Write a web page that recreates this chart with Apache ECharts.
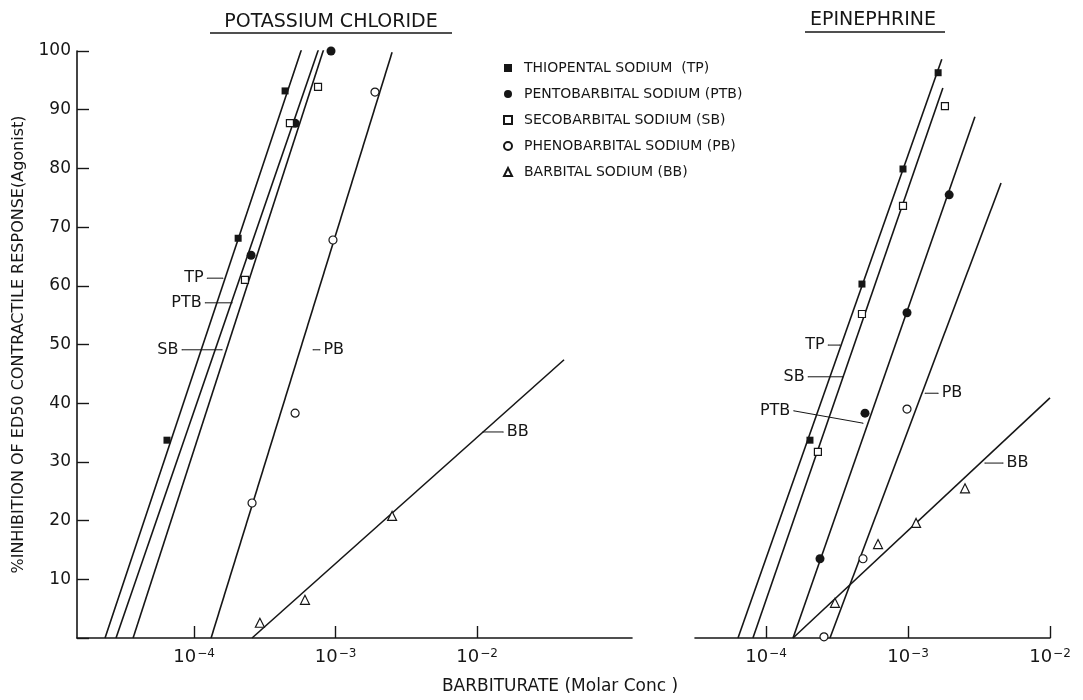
<!DOCTYPE html>
<html>
<head>
<meta charset="utf-8">
<script src="https://cdn.jsdelivr.net/npm/echarts@6/dist/echarts.min.js"></script>
<style>
  html, body { margin: 0; padding: 0; background: #fff; }
  #chart { width: 1083px; height: 700px; }
</style>
</head>
<body>
<div id="chart"></div>
<script>
// compounds, same order everywhere below
const compounds = [
  'THIOPENTAL SODIUM  (TP)',
  'PENTOBARBITAL SODIUM (PTB)',
  'SECOBARBITAL SODIUM (SB)',
  'PHENOBARBITAL SODIUM (PB)',
  'BARBITAL SODIUM (BB)'
]

// x ticks: powers of ten (molar)
const xTickExp = [-4, -3, -2]

// potassium chloride: [molar conc, % inhibition]
const kclTP = [[6.44e-5, 33.7], [2.05e-4, 68.1], [4.40e-4, 93.2]]
const kclPTB = [[2.53e-4, 65.2], [5.18e-4, 87.7], [9.29e-4, 100.0]]
const kclSB = [[2.29e-4, 61.0], [4.76e-4, 87.7], [7.52e-4, 93.9]]
const kclPB = [[2.57e-4, 23.0], [5.18e-4, 38.3], [9.59e-4, 67.8], [1.90e-3, 93.0]]
const kclBB = [[2.92e-4, 2.6], [6.08e-4, 6.5], [2.51e-3, 20.8]]

// epinephrine
const epiTP = [[2.04e-4, 33.7], [4.74e-4, 60.3], [9.22e-4, 79.9], [1.63e-3, 96.3]]
const epiPTB = [[2.40e-4, 13.5], [4.98e-4, 38.3], [9.84e-4, 55.4], [1.95e-3, 75.5]]
const epiSB = [[2.32e-4, 31.7], [4.74e-4, 55.2], [9.22e-4, 73.6], [1.82e-3, 90.6]]
const epiPB = [[2.56e-4, 0.2], [4.82e-4, 13.5], [9.84e-4, 39.0]]
const epiBB = [[3.06e-4, 6.0], [6.15e-4, 16.0], [1.14e-3, 19.6], [2.52e-3, 25.5]]

// fitted lines, two ends each (TP, PTB, SB, PB, BB)
const kclFits = [
  [[2.35e-5, 0], [5.79e-4, 100.5]],
  [[2.81e-5, 0], [7.76e-4, 101.0]],
  [[3.71e-5, 0], [8.43e-4, 101.0]],
  [[1.32e-4, 0], [2.51e-3, 99.8]],
  [[2.57e-4, 0], [4.12e-2, 47.4]]
]
const epiFits = [
  [[6.35e-5, 0], [1.73e-3, 98.6]],
  [[1.55e-4, 0], [2.96e-3, 88.8]],
  [[8.09e-5, 0], [1.76e-3, 93.7]],
  [[2.82e-4, 0], [4.52e-3, 77.5]],
  [[1.55e-4, 0], [1.00e-2, 40.9]]
]

// leader labels: text, end next to text, end on the line, side of text
const kclLeaders = [
  ['TP', [1.24e-4, 61.3], [1.60e-4, 61.3], 'left'],
  ['PTB', [1.20e-4, 57.1], [1.86e-4, 57.1], 'left'],
  ['SB', [8.22e-5, 49.1], [1.58e-4, 49.1], 'left'],
  ['PB', [7.76e-4, 49.1], [6.93e-4, 49.1], 'right'],
  ['BB', [1.53e-2, 35.1], [1.10e-2, 35.1], 'right']
]
const epiLeaders = [
  ['TP', [2.74e-4, 49.9], [3.32e-4, 49.9], 'left'],
  ['SB', [1.98e-4, 44.5], [3.48e-4, 44.5], 'left'],
  ['PTB', [1.57e-4, 38.7], [4.82e-4, 36.6], 'left'],
  ['PB', [1.63e-3, 41.7], [1.32e-3, 41.7], 'right'],
  ['BB', [4.67e-3, 29.8], [3.48e-3, 29.8], 'right']
]

const INK = '#161616'
const FONT = 'DejaVu Sans'

const markers = [
  { symbol: 'rect', size: 7, fill: INK, border: 0 },
  { symbol: 'circle', size: 9, fill: INK, border: 0 },
  { symbol: 'rect', size: 7, fill: '#fff', border: 1.2 },
  { symbol: 'circle', size: 8, fill: '#fff', border: 1.2 },
  { symbol: 'triangle', size: 9, fill: '#fff', border: 1.2 }
]

const lx = c => Math.log10(c)

const series = []

function addPanel(gi, points, fits, leaders) {
  fits.forEach((f, i) => {
    series.push({
      type: 'line',
      name: 'fit' + gi + '-' + i,
      xAxisIndex: gi,
      yAxisIndex: gi,
      data: f.map(p => [lx(p[0]), p[1]]),
      showSymbol: false,
      symbol: 'none',
      lineStyle: { color: INK, width: 1.6 },
      silent: true,
      z: 2
    })
  })
  leaders.forEach((l, i) => {
    const [text, a, b, side] = l
    series.push({
      type: 'line',
      name: 'lead' + gi + '-' + i,
      xAxisIndex: gi,
      yAxisIndex: gi,
      data: [
        { value: [lx(a[0]), a[1]], label: { show: true, position: side, formatter: text } },
        [lx(b[0]), b[1]]
      ],
      showSymbol: true,
      symbol: 'circle',
      symbolSize: 1,
      itemStyle: { color: INK },
      lineStyle: { color: INK, width: 1 },
      label: { show: false, color: INK, fontFamily: FONT, fontSize: 16, distance: 3 },
      silent: true,
      z: 3
    })
  })
  points.forEach((pts, i) => {
    const m = markers[i]
    series.push({
      type: 'scatter',
      name: compounds[i],
      xAxisIndex: gi,
      yAxisIndex: gi,
      data: pts.map(p => [lx(p[0]), p[1]]),
      symbol: m.symbol,
      symbolSize: m.size,
      itemStyle: { color: m.fill, borderColor: INK, borderWidth: m.border, opacity: 1 },
      silent: true,
      z: 5
    })
  })
}

addPanel(0, [kclTP, kclPTB, kclSB, kclPB, kclBB], kclFits, kclLeaders)
addPanel(1, [epiTP, epiPTB, epiSB, epiPB, epiBB], epiFits, epiLeaders)

function xAxisFor(gi, min, max) {
  return {
    type: 'value',
    gridIndex: gi,
    min: min,
    max: max,
    axisLine: { show: true, lineStyle: { color: INK, width: 1.6 } },
    axisTick: { show: true, inside: true, length: 12, customValues: xTickExp, lineStyle: { color: INK, width: 1.4 } },
    axisLabel: {
      customValues: xTickExp,
      margin: 10,
      formatter: v => '{b|10}{s|\u2212' + Math.abs(v) + '}',
      rich: {
        b: { fontFamily: FONT, fontSize: 18, color: INK, verticalAlign: 'bottom' },
        s: { fontFamily: FONT, fontSize: 12, color: INK, verticalAlign: 'top', padding: [0, 0, 0, 1] }
      }
    },
    splitLine: { show: false }
  }
}

const chart = echarts.init(document.getElementById('chart'))

chart.setOption({
  animation: false,
  backgroundColor: '#fff',
  grid: [
    { left: 77, top: 51, width: 555, height: 587 },
    { left: 695, top: 51, width: 355, height: 587 }
  ],
  legend: {
    left: 498,
    top: 56,
    orient: 'vertical',
    itemWidth: 8,
    itemHeight: 8,
    itemGap: 12,
    selectedMode: false,
    data: compounds,
    textStyle: { fontFamily: FONT, fontSize: 14, color: INK, padding: [0, 0, 0, 7] }
  },
  xAxis: [
    xAxisFor(0, -4.827, -0.905),
    xAxisFor(1, -4.5, -2.0)
  ],
  yAxis: [
    {
      type: 'value',
      gridIndex: 0,
      min: 0,
      max: 100,
      interval: 10,
      axisLine: { show: true, lineStyle: { color: INK, width: 1.6 } },
      axisTick: { show: true, inside: true, length: 12, lineStyle: { color: INK, width: 1.4 } },
      axisLabel: {
        margin: 6,
        fontFamily: FONT,
        fontSize: 17,
        color: INK,
        formatter: v => (v === 0 ? '' : String(v))
      },
      splitLine: { show: false },
      name: '%INHIBITION OF ED50 CONTRACTILE RESPONSE(Agonist)',
      nameLocation: 'middle',
      nameGap: 50,
      nameTextStyle: { fontFamily: FONT, fontSize: 16, color: INK }
    },
    { type: 'value', gridIndex: 1, min: 0, max: 100, show: false }
  ],
  graphic: [
    { type: 'text', x: 331, y: 22, style: { text: 'POTASSIUM CHLORIDE', fill: INK, font: '19px "DejaVu Sans"', align: 'center', verticalAlign: 'middle' } },
    { type: 'line', shape: { x1: 210, y1: 33, x2: 452, y2: 33 }, style: { stroke: INK, lineWidth: 1.6 } },
    { type: 'text', x: 873, y: 20, style: { text: 'EPINEPHRINE', fill: INK, font: '19px "DejaVu Sans"', align: 'center', verticalAlign: 'middle' } },
    { type: 'line', shape: { x1: 805, y1: 32, x2: 945, y2: 32 }, style: { stroke: INK, lineWidth: 1.6 } },
    { type: 'text', x: 560, y: 687, style: { text: 'BARBITURATE (Molar Conc )', fill: INK, font: '17px "DejaVu Sans"', align: 'center', verticalAlign: 'middle' } }
  ],
  series: series
})
</script>
</body>
</html>
